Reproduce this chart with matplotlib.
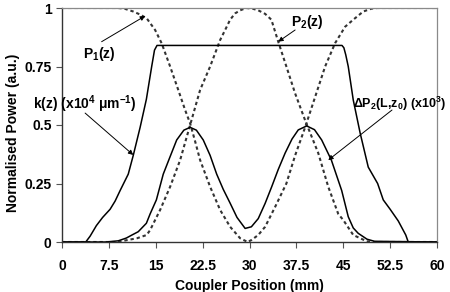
import matplotlib
matplotlib.use("Agg")
import matplotlib.pyplot as plt

plt.rcParams['font.family'] = ['Liberation Sans', 'DejaVu Sans']
plt.rcParams['font.weight'] = 'bold'
plt.rcParams['mathtext.fontset'] = 'custom'
plt.rcParams['mathtext.rm'] = 'Liberation Sans:bold'
plt.rcParams['mathtext.it'] = 'Liberation Sans:bold'
plt.rcParams['mathtext.bf'] = 'Liberation Sans:bold'

# ---- data ----
k_z = [0, 3.8, 4.5, 5.5, 6.5, 7.7, 8.5, 9.3, 10.6, 11.4, 12.5, 13.5, 14.35, 14.8, 15.2,
       44.8, 45.1, 45.4, 45.8, 46.6, 47.7, 49.0, 50.5, 51.4, 52.5, 53.8, 54.4, 55.0, 55.4, 60]
k_v = [0, 0, 0.025, 0.07, 0.105, 0.14, 0.175, 0.22, 0.29, 0.37, 0.49, 0.61, 0.75, 0.82, 0.84,
       0.84, 0.83, 0.80, 0.75, 0.607, 0.466, 0.32, 0.25, 0.18, 0.14, 0.09, 0.06, 0.03, 0.0, 0]

dp_z = [0, 7, 9, 10.3, 11.2, 12.2, 13.5, 14.1, 15.1, 16.2, 17.3, 18.35, 19.5, 20.5, 21.5,
        22.6, 23.7, 24.75, 25.8, 26.9, 28.0, 29.3, 30.3, 31.4, 32.5, 33.55, 34.6, 35.7,
        36.8, 37.8, 39.15, 40.4, 41.55, 43.1, 44.75, 45.8, 46.6, 47.4, 48.8, 50, 60]
dp_v = [0, 0, 0.005, 0.017, 0.03, 0.044, 0.08, 0.12, 0.18, 0.29, 0.365, 0.436, 0.478, 0.49, 0.478,
        0.436, 0.37, 0.29, 0.225, 0.166, 0.105, 0.058, 0.065, 0.10, 0.165, 0.236, 0.31, 0.38,
        0.44, 0.479, 0.496, 0.48, 0.436, 0.35, 0.22, 0.108, 0.06, 0.037, 0.012, 0.003, 0]

p1_z = [0, 9, 10, 11.4, 12.5, 13.55, 14.9, 15.95, 17.3, 18.6, 19.7, 20.5, 21.3, 22.1, 23.7,
        25.3, 26.9, 28.5, 29.7, 30.35, 31.4, 32.5, 34.1, 35.9, 37.3, 38.9, 40.5, 42.1, 43.7,
        45.3, 46.6, 48.2, 49.5, 50.4, 60]
p1_v = [1, 1, 0.997, 0.985, 0.972, 0.956, 0.906, 0.849, 0.75, 0.65, 0.564, 0.507, 0.43, 0.35, 0.236,
        0.137, 0.065, 0.016, 0.0, 0.009, 0.03, 0.065, 0.15, 0.25, 0.37, 0.49, 0.62, 0.75, 0.85,
        0.92, 0.95, 0.985, 0.997, 1, 1]

p2_z = [0, 9, 9.8, 12, 13.55, 14.1, 15.7, 17.3, 18.9, 20.5, 22.1, 23.7, 25.3, 26.1, 26.9, 27.7,
        28.5, 29.5, 30.5, 31.4, 32.5, 33.5, 34.6, 35.9, 37.3, 38.9, 41, 42.6, 44.2, 45,
        46.6, 48.75, 50, 60]
p2_v = [0, 0, 0.005, 0.016, 0.03, 0.051, 0.137, 0.236, 0.35, 0.5, 0.65, 0.75, 0.863, 0.906, 0.95, 0.977,
        0.99, 1.0, 0.997, 0.99, 0.975, 0.95, 0.856, 0.75, 0.635, 0.52, 0.38, 0.236, 0.12, 0.094,
        0.03, 0.003, 0, 0]

x_ticks = [0, 7.5, 15, 22.5, 30, 37.5, 45, 52.5, 60]
x_tick_labels = ['0', '7.5', '15', '22.5', '30', '37.5', '45', '52.5', '60']
y_ticks = [0, 0.25, 0.5, 0.75, 1]
y_tick_labels = ['0', '0.25', '0.5', '0.75', '1']

# ---- figure ----
fig = plt.figure(figsize=(4.5, 2.92), dpi=100)
ax = fig.add_axes([62 / 450, 1 - 242 / 292, 375 / 450, 234 / 292])

dot_style = dict(color='#333333', lw=1.5, linestyle=(0, (1.6, 1.4)), dash_capstyle='butt')
ax.plot(p1_z, p1_v, **dot_style)
ax.plot(p2_z, p2_v, **dot_style)
ax.plot(k_z, k_v, color='black', lw=1.1, solid_joinstyle='round')
ax.plot(dp_z, dp_v, color='black', lw=1.1, solid_joinstyle='round')

ax.set_xlim(0, 60)
ax.set_ylim(0, 1)
ax.set_xticks(x_ticks)
ax.set_xticklabels(x_tick_labels)
ax.set_yticks(y_ticks)
ax.set_yticklabels(y_tick_labels)
ax.tick_params(axis='both', direction='out', length=4, width=0.8, color='#555555', labelsize=10)
ax.tick_params(axis='x', pad=8.5)
ax.tick_params(axis='y', pad=3.5)

for side in ['left', 'bottom']:
    ax.spines[side].set_color('#333333')
    ax.spines[side].set_linewidth(1.0)
for side in ['top', 'right']:
    ax.spines[side].set_color('#8a8a8a')
    ax.spines[side].set_linewidth(0.9)

ax.set_xlabel('Coupler Position (mm)', fontsize=10, fontweight='bold')
ax.set_ylabel('Normalised Power (a.u.)', fontsize=10, fontweight='bold')
ax.xaxis.set_label_coords(0.499, -0.158)
ax.yaxis.set_label_coords(-0.112, 0.466)

arrow = dict(arrowstyle='-|>', lw=0.7, color='black', mutation_scale=7, shrinkA=0, shrinkB=0)
ax.annotate('', xy=(13.3, 0.966), xytext=(6.34, 0.856), arrowprops=arrow)
ax.annotate('', xy=(11.4, 0.372), xytext=(3.7, 0.551), arrowprops=arrow)
ax.annotate('', xy=(34.6, 0.856), xytext=(37.3, 0.906), arrowprops=arrow)
ax.annotate('', xy=(42.6, 0.35), xytext=(52.8, 0.564), arrowprops=arrow)

ax.text(5.9, 0.803, 'P$_1$(z)', fontsize=10, ha='center', va='center', clip_on=False)
ax.text(3.7, 0.59, 'k(z) (x10$^4$ $\\mu$m$^{-1}$)', fontsize=10, ha='center', va='center', clip_on=False)
ax.text(39.2, 0.94, 'P$_2$(z)', fontsize=10, ha='center', va='center', clip_on=False)
ax.text(46.5, 0.59, '\u0394P$_2$(L,z$_0$) (x10$^3$)', fontsize=9, ha='left', va='center', clip_on=False)

fig.savefig('out.png', dpi=100)
